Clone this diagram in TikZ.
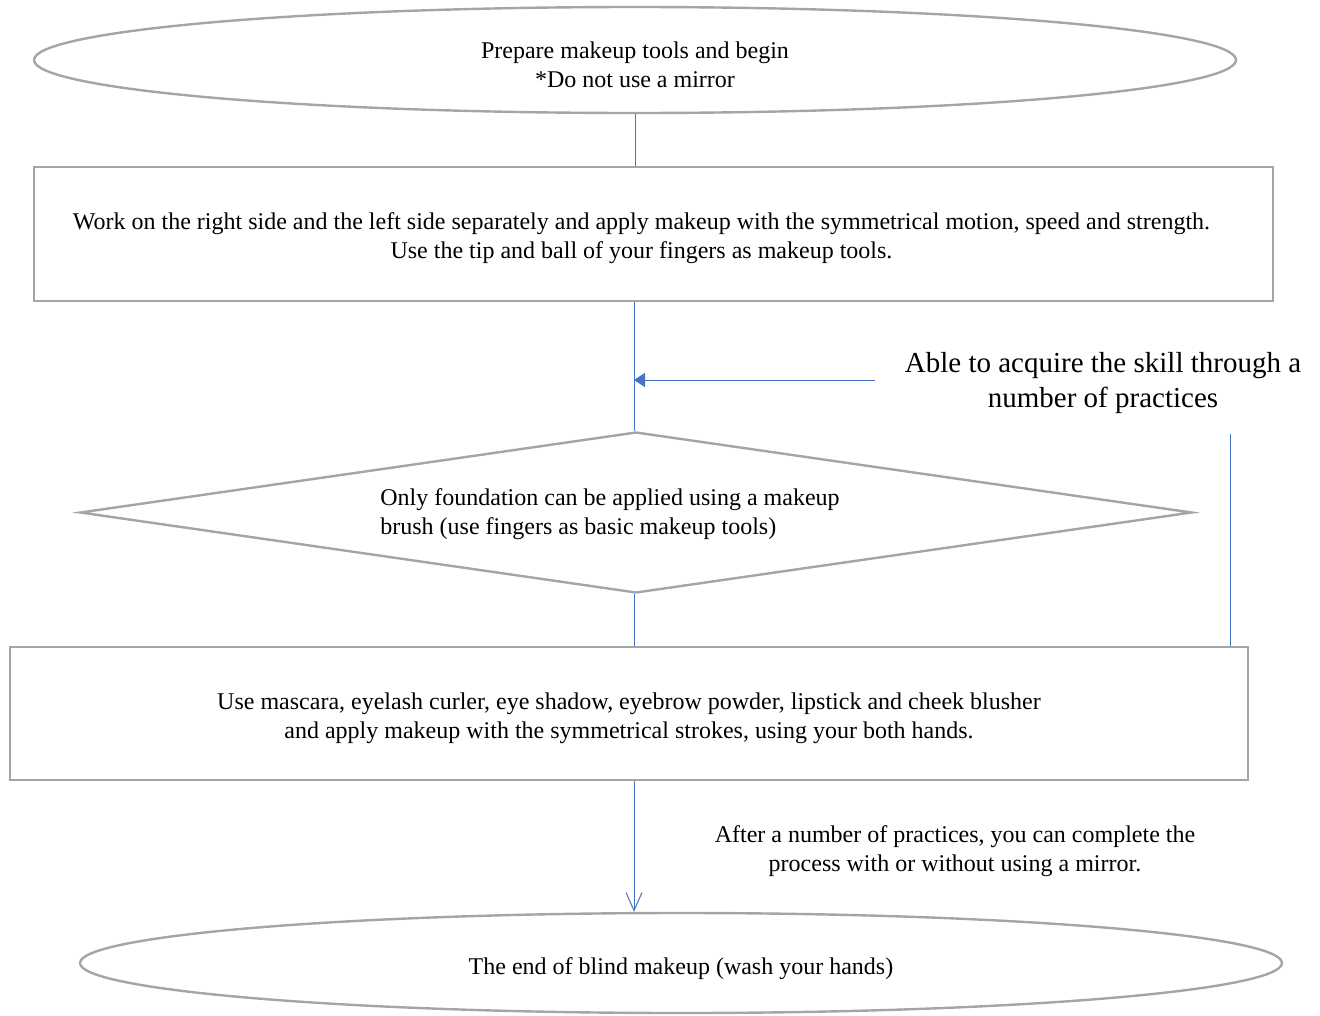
\documentclass[tikz,border=0pt]{standalone}
\usepackage{fontspec}
\setmainfont{Liberation Serif}
\usetikzlibrary{shapes.geometric,arrows.meta}
\definecolor{flowblue}{RGB}{68,114,196}
\definecolor{flowgray}{RGB}{165,165,165}
\begin{document}
\begin{tikzpicture}[x=1pt, y=-1pt,
  box/.style={draw=flowgray, line width=2.4pt, inner sep=0pt},
  caption/.style={align=center, font=\fontsize{24}{29}\selectfont},
  link/.style={draw=flowblue, line width=1pt}]
\useasboundingbox (0,0) rectangle (1320,1015);
\node[box, ellipse, minimum width=1202pt, minimum height=106pt,
  label={[caption, yshift=-5pt]center:{Prepare makeup tools and begin\\*Do not use a mirror}}] (start) at (635,60) {};
\node[box, rectangle, minimum width=1239pt, minimum height=134pt,
  label={[caption, xshift=-12pt, yshift=-4pt]center:{Work on the right side and the left side separately and apply makeup with the symmetrical motion, speed and strength.\\Use the tip and ball of your fingers as makeup tools.}}] (work) at (653.5,234) {};
\node[box, diamond, aspect=6.9, minimum width=1112pt, minimum height=161pt,
  label={[caption, align=left, xshift=-26pt, yshift=-2pt]center:{Only foundation can be applied using a makeup\\brush (use fingers as basic makeup tools)}}] (brush) at (636,512.5) {};
\node[box, rectangle, minimum width=1238pt, minimum height=133pt,
  label={[caption, yshift=-5pt]center:{Use mascara, eyelash curler, eye shadow, eyebrow powder, lipstick and cheek blusher\\and apply makeup with the symmetrical strokes, using your both hands.}}] (tools) at (629,713.5) {};
\node[box, ellipse, minimum width=1202pt, minimum height=100pt,
  label={[caption, yshift=-6pt]center:The end of blind makeup (wash your hands)}] (finish) at (681,963) {};
\node[font=\fontsize{29}{35}\selectfont, align=center] (skill) at (1103,383) {Able to acquire the skill through a\\number of practices};
\node[caption] (mirror) at (955,851) {After a number of practices, you can complete the\\process with or without using a mirror.};
\coordinate (spine) at (634,0);
\coordinate (arrtail) at (875,380);
\coordinate (back) at (1230,434);
\draw[link] (start.south) -- (work.north -| start.south);
\draw[link] (spine |- work.south) -- (spine |- brush.north);
\draw[link, -{Triangle[length=11pt,width=14pt]}] (arrtail) -- (spine |- arrtail);
\draw[link] (back) -- (back |- tools.north);
\draw[link] (spine |- brush.south) -- (spine |- tools.north);
\draw[link, -{Straight Barb[length=18pt,width=16pt]}] (spine |- tools.south) -- (spine |- finish.north);
\end{tikzpicture}
\end{document}
